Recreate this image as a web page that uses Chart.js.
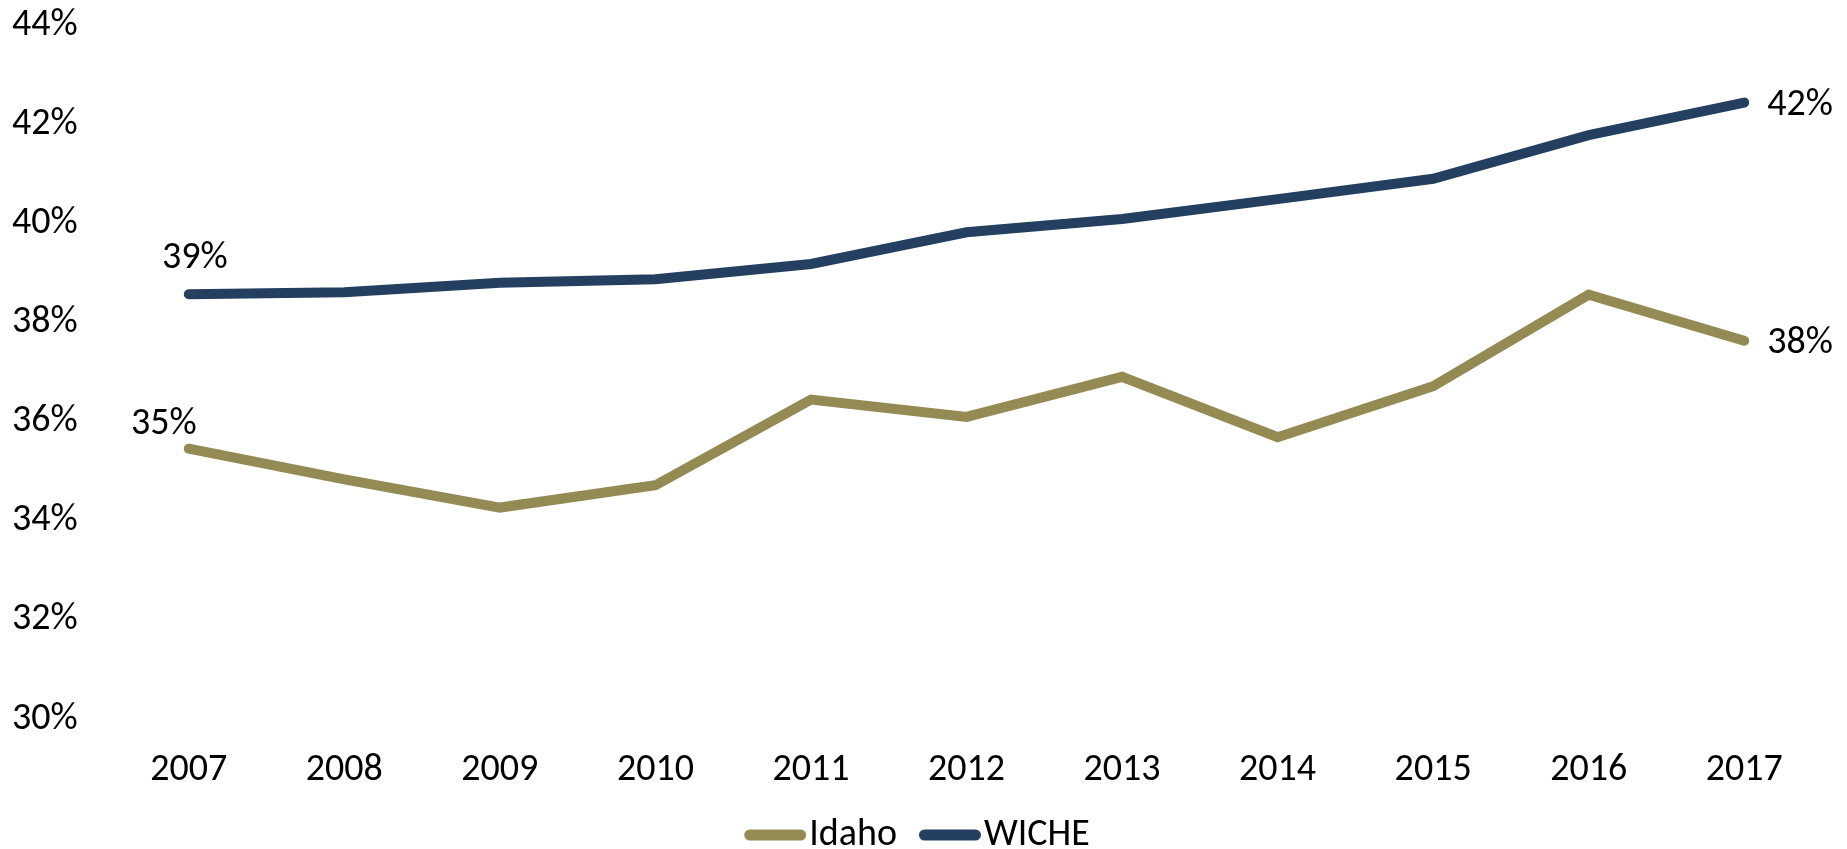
<!DOCTYPE html>
<html>
<head>
<meta charset="utf-8">
<script src="https://cdn.jsdelivr.net/npm/chart.js@4.4.1/dist/chart.umd.min.js"></script>
<style>
  html, body { margin: 0; padding: 0; background: #fff; }
  #wrap { width: 1847px; height: 849px; }
</style>
</head>
<body>
<div id="wrap"><canvas id="myChart"></canvas></div>
<script>
const years = ['2007', '2008', '2009', '2010', '2011', '2012', '2013', '2014', '2015', '2016', '2017'];
const idaho = [35.46, 34.84, 34.27, 34.72, 36.45, 36.10, 36.91, 35.69, 36.72, 38.57, 37.64];
const wiche = [38.58, 38.62, 38.81, 38.88, 39.19, 39.83, 40.10, 40.50, 40.91, 41.79, 42.45];
const yTicks = [30, 32, 34, 36, 38, 40, 42, 44];

const FONT = 'Carlito, Calibri, "Open Sans", sans-serif';

// rounded line used as legend swatch (right-shifted so it sits close to the text)
function swatch(color) {
  const c = document.createElement('canvas');
  c.width = 78;
  c.height = 12;
  const g = c.getContext('2d');
  g.strokeStyle = color;
  g.lineWidth = 11;
  g.lineCap = 'round';
  g.beginPath();
  g.moveTo(21.5, 6);
  g.lineTo(72.5, 6);
  g.stroke();
  return c;
}

// labels on the first and last point of each line
const endLabels = {
  id: 'endLabels',
  afterDatasetsDraw(chart) {
    const ctx = chart.ctx;
    ctx.save();
    ctx.font = '38px ' + FONT;
    ctx.fillStyle = '#000';
    ctx.textBaseline = 'middle';
    chart.data.datasets.forEach((ds, di) => {
      const pts = chart.getDatasetMeta(di).data;
      const first = pts[0], last = pts[pts.length - 1];
      const txt = v => Math.round(v) + '%';
      if (di === 1) {
        ctx.textAlign = 'center';
        ctx.fillText(txt(ds.data[0]), first.x + 6, first.y - 36);
      } else {
        ctx.textAlign = 'right';
        ctx.fillText(txt(ds.data[0]), first.x + 8, first.y - 24);
      }
      ctx.textAlign = 'left';
      ctx.fillText(txt(ds.data[ds.data.length - 1]), last.x + 23, last.y + 3);
    });
    ctx.restore();
  }
};

const ctx = document.getElementById('myChart');

new Chart(ctx, {
  type: 'line',
  data: {
    labels: years,
    datasets: [{
      label: 'Idaho',
      data: idaho,
      borderColor: '#948A54',
      backgroundColor: '#948A54',
      borderWidth: 10,
      borderCapStyle: 'round',
      borderJoinStyle: 'miter',
      pointRadius: 0,
      pointStyle: swatch('#948A54'),
      tension: 0
    }, {
      label: 'WICHE',
      data: wiche,
      borderColor: '#243F60',
      backgroundColor: '#243F60',
      borderWidth: 10,
      borderCapStyle: 'round',
      borderJoinStyle: 'miter',
      pointRadius: 0,
      pointStyle: swatch('#243F60'),
      tension: 0
    }]
  },
  plugins: [endLabels],
  options: {
    responsive: true,
    maintainAspectRatio: false,
    animation: false,
    layout: { padding: { left: 12, right: 25, top: 24, bottom: -15 } },
    plugins: {
      tooltip: { enabled: false },
      legend: {
        position: 'bottom',
        labels: {
          font: { family: FONT, size: 38 },
          color: '#000',
          usePointStyle: true,
          pointStyleWidth: 46,
          boxHeight: 11,
          padding: 22
        }
      }
    },
    scales: {
      x: {
        offset: true,
        afterFit(axis) { axis.height = 75; },
        grid: { display: false, drawTicks: false },
        border: { display: false },
        ticks: { font: { family: FONT, size: 38 }, color: '#000', padding: 29, maxRotation: 0 }
      },
      y: {
        min: 30,
        max: 44,
        afterBuildTicks(axis) { axis.ticks = yTicks.map(v => ({ value: v })); },
        afterFit(axis) { axis.width = 99; },
        grid: { display: false, drawTicks: false },
        border: { display: false },
        ticks: {
          font: { family: FONT, size: 38 },
          color: '#000',
          crossAlign: 'far',
          callback: v => v + '%'
        }
      }
    }
  }
});
</script>
</body>
</html>
